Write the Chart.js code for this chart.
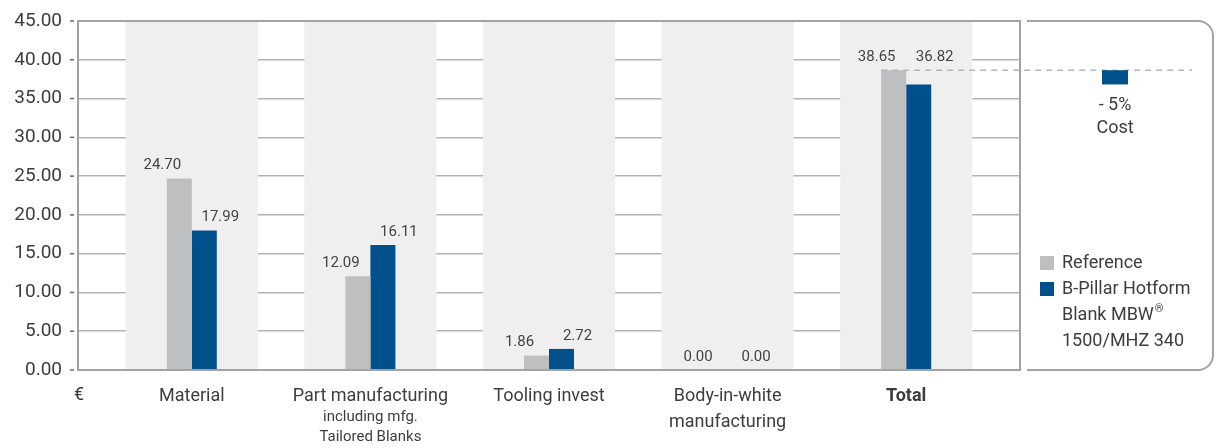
<!DOCTYPE html>
<html>
<head>
<meta charset="utf-8">
<script src="https://cdn.jsdelivr.net/npm/chart.js@4/dist/chart.umd.min.js"></script>
<style>
html,body{margin:0;padding:0;background:#fff;}
#canvas{display:block;}
</style>
</head>
<body>
<canvas id="canvas" width="1222" height="448"></canvas>
<script>
const categories=["Material","Part manufacturing","Tooling invest",["Body-in-white","manufacturing"],"Total"];
const subLabels=[[],["including mfg.","Tailored Blanks"],[],[],[]];
const referenceValues=[24.70,12.09,1.86,0.00,38.65];
const mbwValues=[17.99,16.11,2.72,0.00,36.82];
const yTicks=[0,5,10,15,20,25,30,35,40,45];
const seriesNames=["Reference","B-Pillar Hotform Blank MBW® 1500/MHZ 340"];
const legendLines=[["Reference"],["B-Pillar Hotform","Blank MBW®","1500/MHZ 340"]];
const unitLabel="€";
const deltaCaption="Cost";

const FONT="Roboto";
const TXT="#3d3d3d";
const GREY="#bebfc1";
const BLUE="#00508c";
const FRAME="#a3a3a3";
const last=categories.length-1;

// pull the categories in from the frame edges
const insetPlugin={
    id:"inset",
    afterLayout(chart){
        const s=chart.scales.x;
        const pad=s.width*0.026;
        s._startPixel=s.left+pad;
        s._endPixel=s.right-pad;
        s._length=s._endPixel-s._startPixel;
    }
};

function drawSup(ctx,text,x,y,size){
    const parts=text.split("®");
    ctx.font=size+"px "+FONT;
    ctx.fillText(parts[0],x,y);
    if(parts.length>1){
        const w=ctx.measureText(parts[0]).width;
        ctx.font=Math.round(size*0.6)+"px "+FONT;
        ctx.fillText("®",x+w+1,y-6);
        ctx.font=size+"px "+FONT;
    }
}

const decorPlugin={
    id:"decor",
    beforeDatasetsDraw(chart){
        const {ctx,chartArea:a,scales:{x}}=chart;
        const step=x._length/categories.length;
        ctx.save();
        ctx.fillStyle="#efefef";
        categories.forEach((c,i)=>{
            const cx=x.getPixelForValue(i);
            ctx.fillRect(cx-step*0.37,a.top,step*0.74,a.bottom-a.top);
        });
        ctx.restore();
    },
    afterDatasetsDraw(chart){
        const {ctx,chartArea:a,scales:{x,y}}=chart;
        ctx.save();
        // frame
        ctx.strokeStyle=FRAME;
        ctx.lineWidth=2;
        ctx.strokeRect(a.left,a.top,a.right-a.left,a.bottom-a.top);
        // small y tick marks
        ctx.strokeStyle="#666";
        ctx.lineWidth=1.5;
        yTicks.forEach(v=>{
            const py=y.getPixelForValue(v);
            ctx.beginPath();
            ctx.moveTo(a.left-8,py);
            ctx.lineTo(a.left-4,py);
            ctx.stroke();
        });
        // value labels
        ctx.fillStyle="#444";
        ctx.font="15px "+FONT;
        ctx.textAlign="center";
        ctx.textBaseline="middle";
        [referenceValues,mbwValues].forEach((vals,d)=>{
            const meta=chart.getDatasetMeta(d);
            vals.forEach((v,i)=>{
                const bar=meta.data[i];
                const level=i===last?Math.max(referenceValues[i],mbwValues[i]):v;
                ctx.fillText(v.toFixed(2),bar.x+(d===0?-17:16),y.getPixelForValue(level)-13);
            });
        });
        // sub lines under the category labels
        ctx.fillStyle=TXT;
        ctx.font="15px "+FONT;
        subLabels.forEach((lines,i)=>{
            const cx=x.getPixelForValue(i);
            lines.forEach((t,k)=>ctx.fillText(t,cx,a.bottom+47+k*20));
        });
        ctx.font="18px "+FONT;
        ctx.fillText(unitLabel,a.left+1,a.bottom+25);

        // right panel
        const pl=a.right+7, pr=chart.width-9, r=15;
        ctx.strokeStyle=FRAME;
        ctx.lineWidth=2;
        ctx.beginPath();
        ctx.moveTo(pl,a.top);
        ctx.lineTo(pr-r,a.top);
        ctx.arcTo(pr,a.top,pr,a.top+r,r);
        ctx.lineTo(pr,a.bottom-r);
        ctx.arcTo(pr,a.bottom,pr-r,a.bottom,r);
        ctx.lineTo(pl,a.bottom);
        ctx.stroke();

        // dashed reference level
        const refBar=chart.getDatasetMeta(0).data[last];
        const yRef=y.getPixelForValue(referenceValues[last]);
        const yNew=y.getPixelForValue(mbwValues[last]);
        ctx.strokeStyle="#b5b5b5";
        ctx.lineWidth=1.5;
        ctx.setLineDash([6,5]);
        ctx.beginPath();
        ctx.moveTo(refBar.x-refBar.width/2,yRef);
        ctx.lineTo(pr-21,yRef);
        ctx.stroke();
        ctx.setLineDash([]);

        // saving bar
        const dx=pl+88;
        ctx.fillStyle=BLUE;
        ctx.fillRect(dx-13,yRef,26,yNew-yRef);
        const pct=Math.round(Math.abs(mbwValues[last]-referenceValues[last])/referenceValues[last]*100);
        ctx.fillStyle=TXT;
        ctx.font="18px "+FONT;
        ctx.fillText("- "+pct+"%",dx,yNew+21);
        ctx.fillText(deltaCaption,dx,yNew+44);

        // legend
        const colors=[GREY,BLUE];
        let ly=a.bottom-107;
        ctx.textAlign="left";
        legendLines.forEach((lines,d)=>{
            ctx.fillStyle=colors[d];
            ctx.fillRect(pl+13,ly-7,14,14);
            ctx.fillStyle=TXT;
            lines.forEach(t=>{
                drawSup(ctx,t,pl+35,ly,18);
                ly+=26;
            });
        });
        ctx.restore();
    }
};

new Chart(document.getElementById("canvas"),{
    type:"bar",
    data:{
        labels:categories,
        datasets:[
            {label:seriesNames[0],data:referenceValues,backgroundColor:GREY,barPercentage:1,categoryPercentage:0.28},
            {label:seriesNames[1],data:mbwValues,backgroundColor:BLUE,barPercentage:1,categoryPercentage:0.28}
        ]
    },
    options:{
        responsive:false,
        animation:false,
        layout:{padding:{left:0,top:21,right:202,bottom:0}},
        plugins:{legend:{display:false},tooltip:{enabled:false}},
        scales:{
            x:{
                afterFit(s){s.height=78;},
                grid:{display:false},
                border:{display:false},
                ticks:{
                    padding:5,
                    color:TXT,
                    maxRotation:0,
                    autoSkip:false,
                    font:c=>({family:FONT,size:18,lineHeight:1.45,weight:c.index===last?"bold":"normal"})
                }
            },
            y:{
                min:0,
                max:45,
                afterFit(s){s.width=78;s.paddingTop=0;s.paddingBottom=0;},
                afterBuildTicks(s){s.ticks=yTicks.map(v=>({value:v}));},
                grid:{color:"#b3b3b3",lineWidth:1.5,drawTicks:false},
                border:{display:false},
                ticks:{padding:16,color:TXT,font:{family:FONT,size:19},callback:v=>v.toFixed(2)}
            }
        }
    },
    plugins:[insetPlugin,decorPlugin]
});
</script>
</body>
</html>
